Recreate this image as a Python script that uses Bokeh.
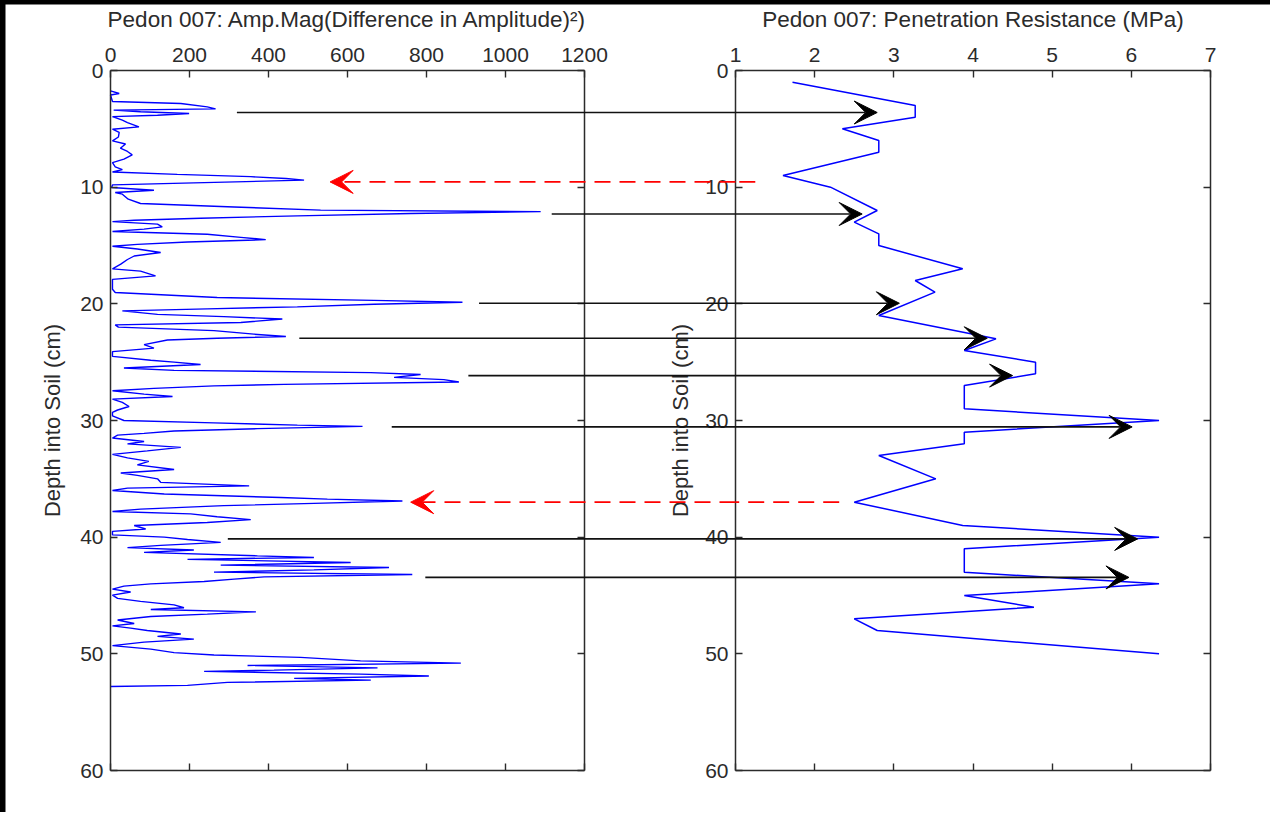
import math
from bokeh.plotting import figure
from bokeh.models import LinearAxis, Range1d, FixedTicker, Arrow, VeeHead, ColumnDataSource, Label
from bokeh.layouts import row
from bokeh.embed import file_html
from bokeh.resources import INLINE

# ---------------- data ----------------
amp_depth = [1.74, 1.97, 2.1, 2.66, 2.83, 3.12, 3.29, 3.4, 3.54, 3.69, 3.83, 3.95, 4.26, 4.46, 4.83,
             5.03, 5.3, 5.7, 6.03, 6.3, 6.66, 6.94, 7.23, 7.6, 7.9, 8.26, 8.5, 8.7, 8.9, 9.1, 9.26,
             9.4, 9.63, 9.8, 10.03, 10.26, 10.46, 10.6, 11.03, 11.4, 11.7, 11.97, 12.1, 12.26, 12.46,
             12.66, 12.83, 12.95, 13.17, 13.4, 13.6, 13.8, 14.03, 14.3, 14.5, 14.7, 14.9, 15.06, 15.3,
             15.6, 15.9, 16.2, 16.6, 17.0, 17.2, 17.6, 17.9, 18.75, 19.03, 19.46, 19.7, 19.86, 20.03,
             20.26, 20.43, 20.6, 20.9, 21.1, 21.3, 21.6, 21.8, 22.0, 22.3, 22.6, 22.8, 22.95, 23.1,
             23.5, 23.8, 24.1, 24.5, 24.83, 25.0, 25.2, 25.5, 25.7, 25.9, 26.06, 26.3, 26.5, 26.7,
             26.9, 27.03, 27.25, 27.45, 27.74, 27.94, 28.17, 28.45, 28.8, 29.1, 29.3, 29.6, 30.0,
             30.2, 30.4, 30.5, 30.7, 30.9, 31.1, 31.25, 31.5, 31.8, 32.0, 32.3, 32.6, 32.9, 33.2,
             33.5, 33.8, 34.2, 34.5, 34.7, 35.0, 35.3, 35.6, 35.8, 36.0, 36.3, 36.6, 36.74, 36.9,
             37.1, 37.3, 37.6, 37.8, 38.0, 38.25, 38.5, 38.74, 39.0, 39.3, 39.5, 39.8, 40.0, 40.2,
             40.45, 40.7, 40.9, 41.1, 41.3, 41.6, 41.74, 41.9, 42.17, 42.4, 42.6, 42.8, 43.0, 43.2,
             43.4, 43.6, 43.8, 44.0, 44.2, 44.45, 44.7, 44.97, 45.25, 45.5, 45.8, 46.05, 46.2, 46.4,
             46.6, 46.8, 47.1, 47.4, 47.6, 47.8, 48.0, 48.3, 48.5, 48.74, 49.0, 49.3, 49.6, 49.9,
             50.1, 50.3, 50.6, 50.8, 51.0, 51.2, 51.4, 51.5, 51.74, 51.9, 52.1, 52.25, 52.45, 52.7,
             52.8]
amp_value = [0, 22, 0, 5, 178, 245, 266, 8, 76, 199, 119, 5, 30, 43, 72,
             5, 22, 20, 5, 38, 25, 43, 55, 34, 5, 12, 30, 5, 169, 355, 444,
             490, 211, 5, 3, 110, 12, 30, 45, 76, 313, 532, 1089, 760, 473,
             228, 60, 5, 119, 131, 85, 5, 245, 330, 393, 195, 68, 5, 68,
             127, 60, 43, 26, 5, 76, 114, 5, 5, 12, 270, 667, 891, 667,
             473, 245, 30, 119, 287, 435, 330, 12, 20, 262, 363, 444, 270, 144,
             85, 110, 5, 5, 102, 161, 228, 34, 161, 659, 785, 718, 844, 882,
             439, 262, 110, 5, 85, 157, 5, 30, 47, 18, 5, 5, 34,
             262, 473, 638, 372, 161, 85, 18, 5, 85, 43, 178, 93, 5, 43,
             97, 68, 161, 26, 68, 119, 127, 351, 43, 5, 136, 431, 549, 739,
             515, 287, 76, 5, 203, 270, 355, 245, 60, 89, 5, 5, 136, 195,
             279, 127, 43, 211, 85, 372, 515, 195, 608, 279, 705, 515, 262, 764,
             389, 313, 237, 102, 34, 5, 51, 5, 18, 76, 161, 186, 102, 368,
             245, 102, 18, 60, 5, 51, 93, 178, 119, 211, 85, 5, 102, 161,
             262, 481, 633, 887, 347, 676, 414, 237, 633, 806, 465, 659, 296, 195,
             0]

pr_depth = [1, 3, 4, 5, 6, 7, 9, 10, 12, 13, 14, 15, 17, 18, 19, 21, 23, 24, 25, 26, 27, 29, 30,
            31, 32, 33, 35, 37, 39, 40, 41, 43, 44, 45, 46, 47, 48, 50]
pr_value = [1.72, 3.27, 3.27, 2.35, 2.81, 2.81, 1.6, 2.2, 2.79, 2.5, 2.81, 2.81, 3.87, 3.27, 3.52,
            2.81, 4.29, 3.89, 4.79, 4.79, 3.89, 3.89, 6.35, 3.89, 3.89, 2.81, 3.53, 2.5, 3.87, 6.35,
            3.89, 3.89, 6.35, 3.89, 4.77, 2.5, 2.79, 6.35]

# matched layers: black arrows go from the amplitude panel to the resistance panel
black_depth = [3.6, 12.3, 19.95, 22.95, 26.15, 30.55, 40.15, 43.45]
black_amp_start = [320, 1117, 933, 478, 906, 712, 297, 797]
black_pr_end = [2.79, 2.60, 3.07, 4.18, 4.50, 6.01, 6.08, 5.97]
# unmatched layers: red dashed arrows go back from the resistance panel
red_depth = [9.55, 37.0]
red_pr_start = [1.25, 2.31]
red_amp_end = [556, 760]

amp_ticks = [0, 200, 400, 600, 800, 1000, 1200]
pr_ticks = [1, 2, 3, 4, 5, 6, 7]
depth_ticks = [0, 10, 20, 30, 40, 50, 60]

title_left = "Pedon 007: Amp.Mag(Difference in Amplitude)\u00b2)"
title_right = "Pedon 007: Penetration Resistance (MPa)"
y_label = "Depth into Soil (cm)"

# ---------------- layout (canvas pixels) ----------------
W, H = 1265, 808
AMP_PX = (105, 579)      # x pixels of the amplitude box edges
PR_PX = (730, 1205)      # x pixels of the resistance box edges
DEPTH_PX = (66, 766)     # y pixels (from top) of depth 0 and depth 60
TITLE_Y_PX = 15
YLABEL_X_PX = (47, 675)

amp_lim = (amp_ticks[0], amp_ticks[-1])
pr_lim = (pr_ticks[0], pr_ticks[-1])
depth_lim = (depth_ticks[0], depth_ticks[-1])


def x_from_px(px, lim, box):
    return lim[0] + (px - box[0]) * (lim[1] - lim[0]) / (box[1] - box[0])


def depth_from_px(py):
    return depth_lim[0] + (py - DEPTH_PX[0]) * (depth_lim[1] - depth_lim[0]) / (DEPTH_PX[1] - DEPTH_PX[0])


amp_range = Range1d(x_from_px(0, amp_lim, AMP_PX), x_from_px(W, amp_lim, AMP_PX))
pr_range = Range1d(x_from_px(0, pr_lim, PR_PX), x_from_px(W, pr_lim, PR_PX))
depth_range = Range1d(depth_from_px(H), depth_from_px(0))   # reversed: depth grows downwards
amp_at_pr_axis = x_from_px(PR_PX[0], amp_lim, AMP_PX)       # where the resistance box begins

# ---------------- styling ----------------
FONT = "Liberation Sans"
INK = "#2b2b2b"
ARROW_INK = "#111111"
RED = "#ff0000"
BLUE = "#0000ff"
DASH = "16 9"
TICK_PX = "21px"
LABEL_PX = "22px"
TITLE_PX = "22.5px"

p = figure(width=W, height=H, x_range=amp_range, y_range=depth_range,
           extra_x_ranges={"pr": pr_range}, x_axis_type=None, y_axis_type=None,
           toolbar_location=None, output_backend="svg", min_border=0)
p.outline_line_color = None
p.border_fill_color = "white"
p.background_fill_color = "white"


def axis(side, ticks, loc, bounds, labelled, rng="default"):
    if labelled:
        ticker = FixedTicker(ticks=ticks)
    else:
        ticker = FixedTicker(ticks=[], minor_ticks=ticks)
    ax = LinearAxis(ticker=ticker, fixed_location=loc, bounds=bounds, x_range_name=rng)
    ax.major_tick_in = 7
    ax.major_tick_out = 0
    ax.minor_tick_in = 7
    ax.minor_tick_out = 0
    ax.axis_line_color = INK
    ax.axis_line_width = 1.5
    ax.major_tick_line_color = INK
    ax.major_tick_line_width = 1.4
    ax.minor_tick_line_color = INK
    ax.minor_tick_line_width = 1.4
    ax.major_label_text_font = FONT
    ax.major_label_text_font_size = TICK_PX
    ax.major_label_text_color = INK
    ax.major_label_standoff = 9 if side == "above" else 7
    p.add_layout(ax, side)
    return ax


# amplitude box
axis("above", amp_ticks, depth_lim[0], amp_lim, True)
axis("below", amp_ticks, depth_lim[1], amp_lim, False)
axis("left", depth_ticks, amp_lim[0], depth_lim, True)
axis("right", depth_ticks, amp_lim[1], depth_lim, False)
# resistance box
axis("above", pr_ticks, depth_lim[0], pr_lim, True, "pr")
axis("below", pr_ticks, depth_lim[1], pr_lim, False, "pr")
axis("left", depth_ticks, pr_lim[0], depth_lim, True, "pr")
axis("right", depth_ticks, pr_lim[1], depth_lim, False, "pr")

# titles and depth labels
title_y = depth_from_px(TITLE_Y_PX)
mid_depth = (depth_lim[0] + depth_lim[1]) / 2
for x, rng, txt in ((sum(amp_lim) / 2, "default", title_left),
                    (sum(pr_lim) / 2, "pr", title_right)):
    p.add_layout(Label(x=x, y=title_y, x_range_name=rng, text=txt, text_align="center",
                       text_baseline="middle", text_font=FONT, text_font_size=TITLE_PX,
                       text_color=INK))
for x, rng in ((x_from_px(YLABEL_X_PX[0], amp_lim, AMP_PX), "default"),
               (x_from_px(YLABEL_X_PX[1], pr_lim, PR_PX), "pr")):
    p.add_layout(Label(x=x, y=mid_depth, x_range_name=rng, text=y_label, angle=math.pi / 2,
                       text_align="center", text_baseline="middle", text_font=FONT,
                       text_font_size=LABEL_PX, text_color=INK))

# data lines
p.line(amp_value, amp_depth, line_color=BLUE, line_width=1.4)
p.line(pr_value, pr_depth, line_color=BLUE, line_width=1.5, x_range_name="pr")

# arrows: the part over the amplitude box and gap uses the amplitude scale,
# the part over the resistance box uses the resistance scale
n_b = len(black_depth)
n_r = len(red_depth)
p.add_layout(Arrow(source=ColumnDataSource(dict(x0=black_amp_start, y0=black_depth,
                                                x1=[amp_at_pr_axis] * n_b, y1=black_depth)),
                   x_start="x0", y_start="y0", x_end="x1", y_end="y1", end=None,
                   line_color=ARROW_INK, line_width=1.7))
p.add_layout(Arrow(source=ColumnDataSource(dict(x0=[pr_lim[0]] * n_b, y0=black_depth,
                                                x1=black_pr_end, y1=black_depth)),
                   x_start="x0", y_start="y0", x_end="x1", y_end="y1", x_range_name="pr",
                   end=VeeHead(size=23, fill_color="black", line_color="black", line_width=1),
                   line_color=ARROW_INK, line_width=1.7))
p.add_layout(Arrow(source=ColumnDataSource(dict(x0=red_pr_start, y0=red_depth,
                                                x1=[pr_lim[0]] * n_r, y1=red_depth)),
                   x_start="x0", y_start="y0", x_end="x1", y_end="y1", x_range_name="pr",
                   end=None, line_color=RED, line_width=1.9, line_dash=DASH))
p.add_layout(Arrow(source=ColumnDataSource(dict(x0=[amp_at_pr_axis] * n_r, y0=red_depth,
                                                x1=red_amp_end, y1=red_depth)),
                   x_start="x0", y_start="y0", x_end="x1", y_end="y1",
                   end=VeeHead(size=23, fill_color=RED, line_color=RED, line_width=1),
                   line_color=RED, line_width=1.9, line_dash=DASH))

p.margin = (4, 0, 0, 5)
layout = row(p, styles={"background-color": "black"})

open("out.html", "w").write(file_html(layout, INLINE))
